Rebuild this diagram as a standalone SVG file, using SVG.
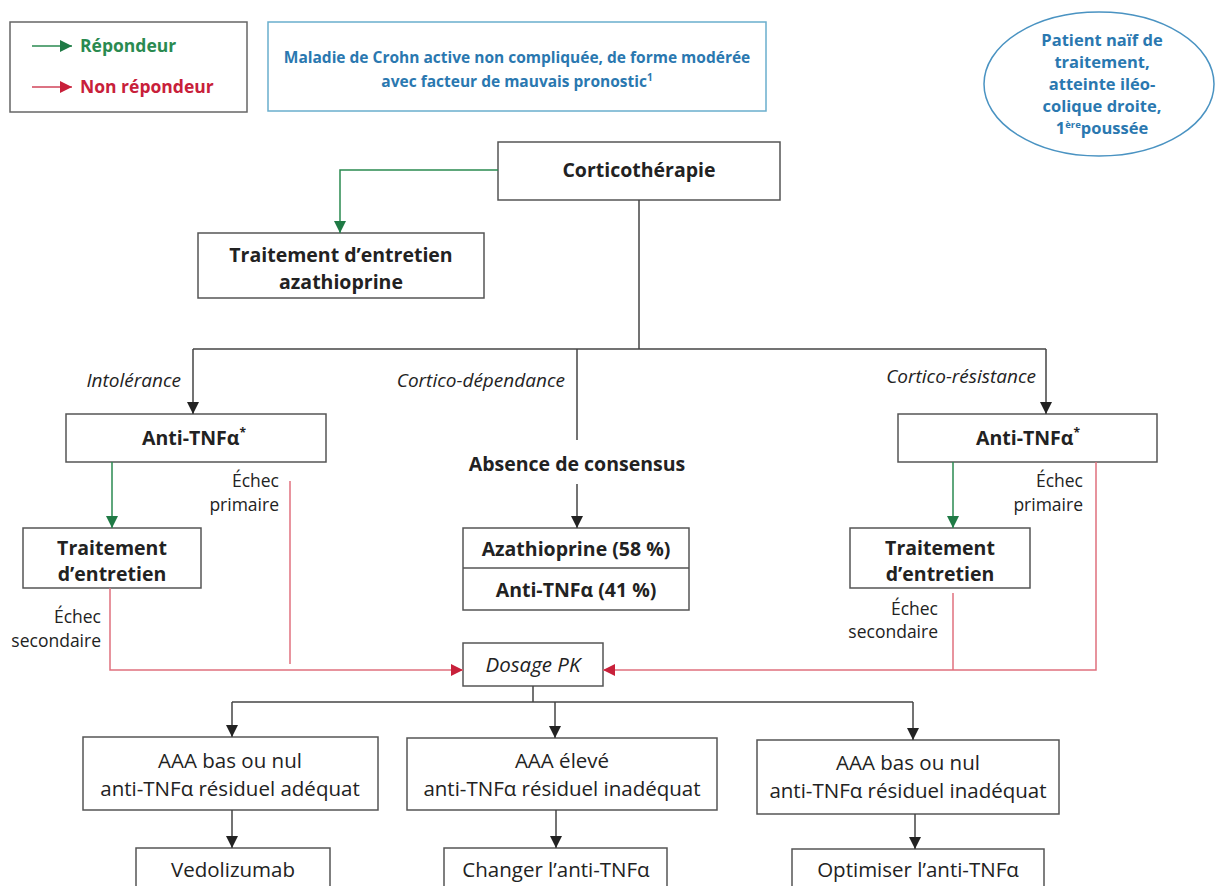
<svg xmlns="http://www.w3.org/2000/svg" width="1230" height="886" viewBox="0 0 1230 886">
<style>
text{font-family:"Open Sans","Noto Sans","Liberation Sans",sans-serif;fill:#222}
.b{font-weight:bold}
.i{font-style:italic}
.c{text-anchor:middle}
.e{text-anchor:end}
.box{fill:#fff;stroke:#555;stroke-width:1.5}
.blk{fill:none;stroke:#444;stroke-width:1.5}
.grn{fill:none;stroke:#2a8a50;stroke-width:1.5}
.red{fill:none;stroke:#e0707e;stroke-width:1.5}
.nb{font-size:19.5px;font-weight:bold}
.rg{font-size:20.5px}
.lb{font-size:17.5px}
.it{font-size:19px;font-style:italic}
.bl{fill:#2a78b0;font-weight:bold}
</style>
<defs>
<marker id="ak" markerUnits="userSpaceOnUse" markerWidth="12" markerHeight="12" refX="10" refY="5" orient="auto" viewBox="0 0 10 10"><path d="M0,0 L10,5 L0,10 z" fill="#222"/></marker>
<marker id="ag" markerUnits="userSpaceOnUse" markerWidth="12" markerHeight="12" refX="10" refY="5" orient="auto" viewBox="0 0 10 10"><path d="M0,0 L10,5 L0,10 z" fill="#1f7a45"/></marker>
<marker id="ar" markerUnits="userSpaceOnUse" markerWidth="12" markerHeight="12" refX="10" refY="5" orient="auto" viewBox="0 0 10 10"><path d="M0,0 L10,5 L0,10 z" fill="#c8203a"/></marker>
</defs>
<rect width="1230" height="886" fill="#fff"/>

<g id="legend">
<rect x="10" y="22" width="237" height="90" fill="#fff" stroke="#666" stroke-width="1.5"/>
<line x1="32" y1="46" x2="72" y2="46" stroke="#2a8a50" stroke-width="1.5" marker-end="url(#ag)"/>
<text x="80" y="52" class="b" style="font-size:17.5px;fill:#2a8a50">Répondeur</text>
<line x1="32" y1="87" x2="72" y2="87" stroke="#d0445a" stroke-width="1.5" marker-end="url(#ar)"/>
<text x="80" y="93" class="b" style="font-size:17.5px;fill:#c8203a">Non répondeur</text>
</g>

<g id="title">
<rect x="268" y="22" width="498" height="89" fill="#fff" stroke="#6aaecd" stroke-width="1.5"/>
<text x="517" y="63" class="c bl" style="font-size:15.5px">Maladie de Crohn active non compliquée, de forme modérée</text>
<text x="517" y="87" class="c bl" style="font-size:15.5px">avec facteur de mauvais pronostic<tspan dy="-6" style="font-size:10px">1</tspan></text>
</g>

<g id="patient">
<ellipse cx="1099" cy="84" rx="115" ry="72" fill="#fff" stroke="#4a93c2" stroke-width="1.5"/>
<text x="1102" y="46" class="c bl" style="font-size:16.5px">Patient naïf de</text>
<text x="1102" y="68" class="c bl" style="font-size:16.5px">traitement,</text>
<text x="1102" y="90" class="c bl" style="font-size:16.5px">atteinte iléo-</text>
<text x="1102" y="112" class="c bl" style="font-size:16.5px">colique droite,</text>
<text x="1102" y="134" class="c bl" style="font-size:16.5px">1<tspan dy="-6" style="font-size:9.5px">ère</tspan><tspan dy="6">poussée</tspan></text>
</g>

<g id="cortico">
<rect x="498" y="142" width="282" height="58" class="box"/>
<text x="639" y="177" class="c nb">Corticothérapie</text>
</g>

<g id="aza">
<rect x="198" y="233" width="286" height="65" class="box"/>
<text x="341" y="262" class="c nb">Traitement d’entretien</text>
<text x="341" y="289" class="c nb">azathioprine</text>
</g>

<g id="antitnf-left">
<rect x="66" y="414" width="260" height="48" class="box"/>
<text x="194" y="445" class="c nb">Anti-TNFα<tspan dy="-8" style="font-size:12px">*</tspan></text>
</g>

<g id="entretien-left">
<rect x="23" y="528" width="178" height="60" class="box"/>
<text x="112" y="555" class="c nb">Traitement</text>
<text x="112" y="581" class="c nb">d’entretien</text>
</g>

<g id="consensus">
<text x="577" y="471" class="c nb">Absence de consensus</text>
</g>

<g id="aza-anti">
<rect x="463" y="528" width="226" height="82" class="box"/>
<line x1="463" y1="568" x2="689" y2="568" stroke="#555" stroke-width="1.5"/>
<text x="576" y="556" class="c nb">Azathioprine (58 %)</text>
<text x="576" y="597" class="c nb">Anti-TNFα (41 %)</text>
</g>

<g id="antitnf-right">
<rect x="898" y="414" width="259" height="48" class="box"/>
<text x="1028" y="445" class="c nb">Anti-TNFα<tspan dy="-8" style="font-size:12px">*</tspan></text>
</g>

<g id="entretien-right">
<rect x="850" y="528" width="180" height="60" class="box"/>
<text x="940" y="555" class="c nb">Traitement</text>
<text x="940" y="581" class="c nb">d’entretien</text>
</g>

<g id="dosage">
<rect x="463" y="643" width="140" height="43" class="box"/>
<text x="533" y="672" class="i c" style="font-size:20.5px">Dosage PK</text>
</g>

<g id="res1">
<rect x="83" y="737" width="295" height="73" class="box"/>
<text x="230" y="768" class="c rg">AAA bas ou nul</text>
<text x="230" y="796" class="c rg">anti-TNFα résiduel adéquat</text>
</g>
<g id="res2">
<rect x="407" y="738" width="310" height="72" class="box"/>
<text x="562" y="768" class="c rg">AAA élevé</text>
<text x="562" y="796" class="c rg">anti-TNFα résiduel inadéquat</text>
</g>
<g id="res3">
<rect x="757" y="740" width="302" height="74" class="box"/>
<text x="908" y="770" class="c rg">AAA bas ou nul</text>
<text x="908" y="798" class="c rg">anti-TNFα résiduel inadéquat</text>
</g>

<g id="vedo">
<rect x="136" y="848" width="194" height="50" class="box"/>
<text x="233" y="877" class="c rg">Vedolizumab</text>
</g>
<g id="changer">
<rect x="444" y="848" width="223" height="50" class="box"/>
<text x="556" y="877" class="c rg">Changer l’anti-TNFα</text>
</g>
<g id="optimiser">
<rect x="792" y="849" width="252" height="50" class="box"/>
<text x="918" y="877" class="c rg">Optimiser l’anti-TNFα</text>
</g>

<g id="labels">
<text x="181" y="387" class="e it">Intolérance</text>
<text x="565" y="387" class="e it">Cortico-dépendance</text>
<text x="1036" y="383" class="e it">Cortico-résistance</text>
<text x="279" y="487" class="e lb">Échec</text>
<text x="279" y="511" class="e lb">primaire</text>
<text x="1083" y="487" class="e lb">Échec</text>
<text x="1083" y="511" class="e lb">primaire</text>
<text x="101" y="623" class="e lb">Échec</text>
<text x="101" y="647" class="e lb">secondaire</text>
<text x="938" y="615" class="e lb">Échec</text>
<text x="938" y="638" class="e lb">secondaire</text>
</g>

<g id="connectors">
<path d="M498,170 H340 V233" class="grn" marker-end="url(#ag)"/>
<path d="M639,200 V349" class="blk"/>
<path d="M193,349 H1046" class="blk"/>
<path d="M193,349 V414" class="blk" marker-end="url(#ak)"/>
<path d="M577,349 V440" class="blk"/>
<path d="M577,484 V528" class="blk" marker-end="url(#ak)"/>
<path d="M1046,349 V414" class="blk" marker-end="url(#ak)"/>
<path d="M112,462 V528" class="grn" marker-end="url(#ag)"/>
<path d="M953,462 V528" class="grn" marker-end="url(#ag)"/>
<path d="M290,481 V664" class="red"/>
<path d="M110,588 V670 H463" class="red" marker-end="url(#ar)"/>
<path d="M1096,462 V670 H603" class="red" marker-end="url(#ar)"/>
<path d="M953,593 V670" class="red"/>
<path d="M533,686 V702" class="blk"/>
<path d="M232,702 H913" class="blk"/>
<path d="M232,702 V737" class="blk" marker-end="url(#ak)"/>
<path d="M555,702 V738" class="blk" marker-end="url(#ak)"/>
<path d="M913,702 V740" class="blk" marker-end="url(#ak)"/>
<path d="M232,810 V848" class="blk" marker-end="url(#ak)"/>
<path d="M556,810 V848" class="blk" marker-end="url(#ak)"/>
<path d="M915,814 V849" class="blk" marker-end="url(#ak)"/>
</g>
</svg>
